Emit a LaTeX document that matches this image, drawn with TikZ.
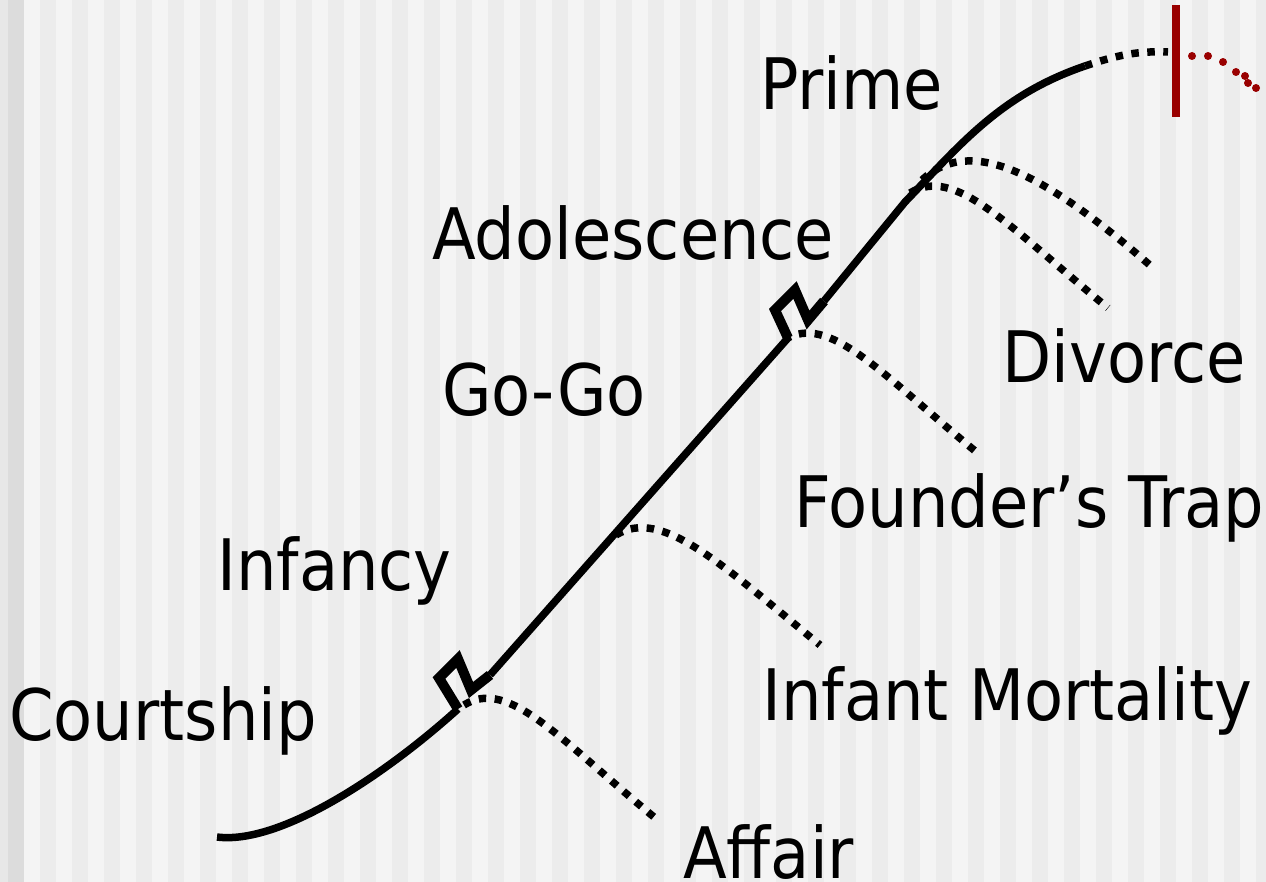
\documentclass[tikz,border=0pt]{standalone}
\usepackage{fontspec}
\setmainfont[FakeStretch=0.9]{DejaVu Sans}
\definecolor{stripeA}{HTML}{F4F4F4}
\definecolor{stripeB}{HTML}{ECECEC}
\definecolor{stripeL1}{HTML}{E7E7E7}
\definecolor{stripeL2}{HTML}{DCDCDC}
\definecolor{darkred}{HTML}{990000}
\tikzset{
  mainline/.style={line width=7.5pt, black, line join=miter},
  zigzag/.style={line width=10pt, black, line join=miter, miter limit=4},
  branch/.style={line width=7.5pt, black, dash pattern=on 7.5pt off 8.5pt},
  stage/.style={anchor=base west, inner sep=0pt, font=\fontsize{71}{80}\selectfont},
}
\begin{document}
\begin{tikzpicture}[x=1pt,y=-1pt]
\useasboundingbox (0,0) rectangle (1266,882);
% background stripes
\fill[stripeB] (0,0) rectangle (1266,882);
\fill[stripeL1] (0,0) rectangle (8,882);
\fill[stripeL2] (8,0) rectangle (24,882);
\foreach \k in {0,...,38} {
  \fill[stripeA] ({24+32*\k},0) rectangle ({40+32*\k},882);
}
% key coordinates
\coordinate (start) at (217,837);
\coordinate (za) at (458,709);
\coordinate (zb) at (439,678);
\coordinate (zc) at (458,659);
\coordinate (zd) at (471,690);
\coordinate (ze) at (490,675);
\coordinate (ya) at (788,338);
\coordinate (yb) at (775,310);
\coordinate (yc) at (795,290);
\coordinate (yd) at (808,320);
\coordinate (ye) at (824,301);
\coordinate (bend) at (905,202);
\coordinate (top) at (1085,66);
\coordinate (topend) at (1168,52);
% main curve
\draw[mainline] (start) .. controls (280,845) and (385,775) .. (za);
\draw[zigzag] (za) -- (zb) -- (zc) -- (zd) -- (ze);
\draw[mainline] (ze) -- (ya);
\draw[zigzag] (ya) -- (yb) -- (yc) -- (yd) -- (ye);
\draw[mainline] (ye) -- (bend) .. controls (960,145) and (1000,95) .. (top);
\draw[branch] (top) .. controls (1120,54) and (1140,51) .. (topend);
% branches
\draw[branch] (464,705) .. controls +(45,-28) and +(-100,-82) .. (660,822);
\draw[branch] (616,535) .. controls +(45,-28) and +(-100,-82) .. (820,645);
\draw[branch] (784,340) .. controls +(45,-28) and +(-100,-82) .. (980,455);
\draw[branch] (910,193) .. controls +(45,-28) and +(-100,-82) .. (1108,308);
\draw[branch] (922,180) .. controls (965,140) and (1030,160) .. (1152,267);
% red end
\draw[darkred, line width=8pt] (1176,5) -- (1176,117);
\foreach \p in {(1192,56),(1208,56),(1223,62),(1236,72),(1245,76),(1248,83),(1256,88)} {
  \fill[darkred] \p circle (4);
}
% labels
\node[stage] (prime) at (760,110) {Prime};
\node[stage] (adol) at (432,260) {Adolescence};
\node[stage] (gogo) at (442,415) {Go-Go};
\node[stage] (infancy) at (217,590) {Infancy};
\node[stage] (court) at (9,740) {Courtship};
\node[stage] (affair) at (683,878) {Affair};
\node[stage] (infmort) at (762,720) {Infant Mortality};
\node[stage] (founder) at (794,527) {Founder’s Trap};
\node[stage] (divorce) at (1002,383) {Divorce};
\end{tikzpicture}
\end{document}
